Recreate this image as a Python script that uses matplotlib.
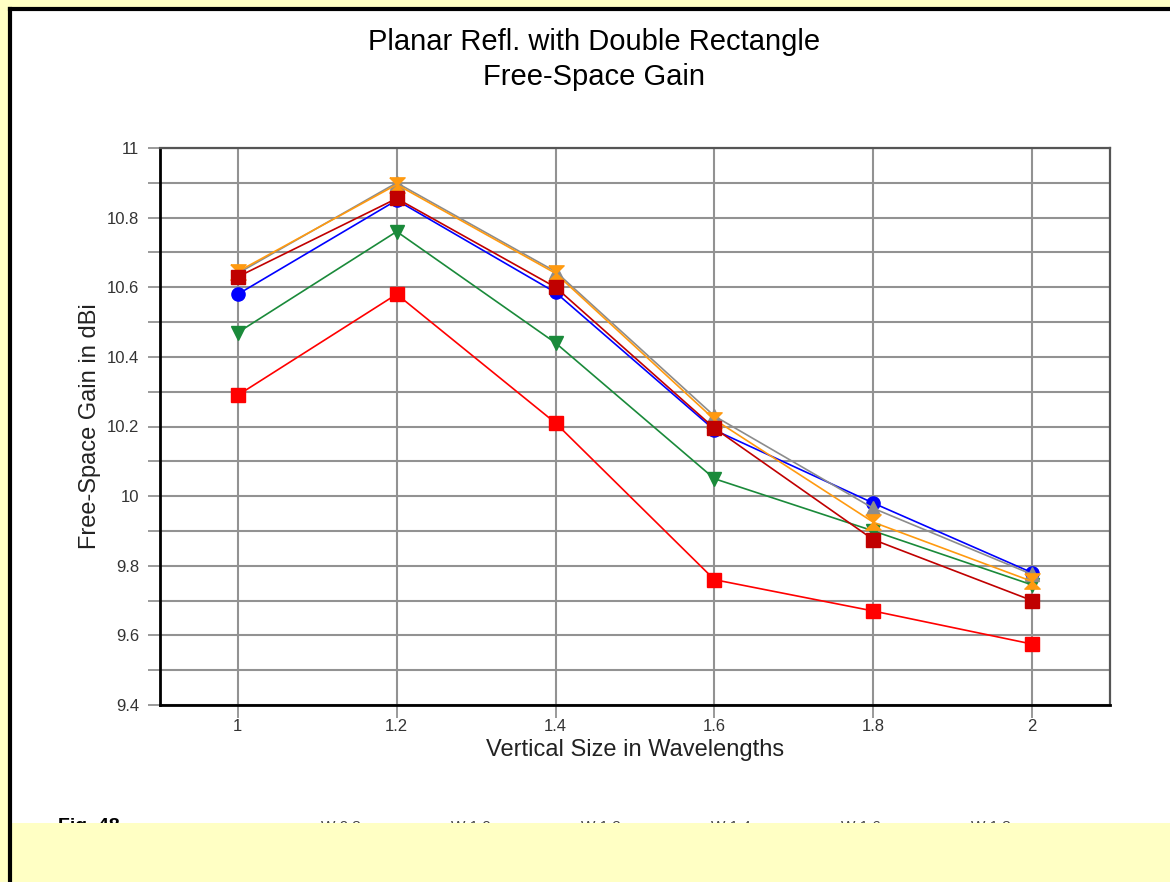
import numpy as np
import matplotlib.pyplot as plt
from matplotlib.patches import Rectangle
from matplotlib.lines import Line2D
from matplotlib.ticker import MultipleLocator

plt.rcParams['font.family'] = 'Liberation Sans'

# -----------------------------
# data
# -----------------------------
sizes = [1.0, 1.2, 1.4, 1.6, 1.8, 2.0]
gain_red = [10.29, 10.58, 10.21, 9.76, 9.67, 9.575]
gain_green = [10.47, 10.76, 10.44, 10.05, 9.90, 9.745]
gain_blue = [10.58, 10.85, 10.585, 10.19, 9.98, 9.78]
gain_gray = [10.64, 10.90, 10.645, 10.23, 9.965, 9.775]
gain_orange = [10.645, 10.895, 10.64, 10.22, 9.925, 9.755]
gain_darkred = [10.63, 10.855, 10.60, 10.195, 9.875, 9.70]
legend_labels = ["W 0.8", "W 1.0", "W 1.2", "W 1.4", "W 1.6", "W 1.8"]

yticks = [9.4, 9.6, 9.8, 10, 10.2, 10.4, 10.6, 10.8, 11]
ytick_labels = ["9.4", "9.6", "9.8", "10", "10.2", "10.4", "10.6", "10.8", "11"]
xtick_labels = ["1", "1.2", "1.4", "1.6", "1.8", "2"]

W, H = 1170, 882
fig = plt.figure(figsize=(W / 100, H / 100), dpi=100, facecolor="#FFFFC4")

# white panel with black top/left border
fig.patches.append(Rectangle((10 / W, 1 - 823 / H), (W - 10) / W, (823 - 9) / H,
                             transform=fig.transFigure, facecolor="white",
                             edgecolor="none", zorder=-5))
fig.add_artist(Line2D([9.5 / W, 1], [1 - 9 / H, 1 - 9 / H], transform=fig.transFigure,
                      color="black", lw=3, zorder=5))
fig.add_artist(Line2D([9.5 / W, 9.5 / W], [0, 1 - 9 / H], transform=fig.transFigure,
                      color="black", lw=3, zorder=5))

ax = fig.add_axes([160 / W, 1 - 705 / H, (1110 - 160) / W, (705 - 148) / H])
ax.set_facecolor("white")

# -----------------------------
# series
# -----------------------------
hourglass = [(-1, 1), (1, 1), (0, 0), (1, -1), (-1, -1), (0, 0), (-1, 1)]
ax.plot(sizes, gain_red, color="#FF0000", marker="s", ms=10, lw=1.2, zorder=3)
ax.plot(sizes, gain_green, color="#1A8A3A", marker="v", ms=10, lw=1.2, zorder=3)
ax.plot(sizes, gain_blue, color="#0000FF", marker="o", ms=9.5, lw=1.2, zorder=3)
ax.plot(sizes, gain_gray, color="#8C8C8C", marker="^", ms=10, lw=1.2, zorder=3)
ax.plot(sizes, gain_orange, color="#FF9A10", marker=hourglass, ms=11, lw=1.2, zorder=3)
ax.plot(sizes, gain_darkred, color="#C00000", marker="s", ms=10, lw=1.2, zorder=3)

ax.set_xlim(0.902, 2.098)
ax.set_ylim(9.4, 11.0)
ax.set_xticks(sizes)
ax.set_xticklabels(xtick_labels)
ax.set_yticks(yticks)
ax.set_yticklabels(ytick_labels)
ax.yaxis.set_minor_locator(MultipleLocator(0.1))

ax.grid(True, which="both", axis="y", color="#929292", lw=1.5, zorder=1)
ax.grid(True, which="major", axis="x", color="#929292", lw=1.5, zorder=1)
ax.set_axisbelow(True)

ax.tick_params(axis="both", which="both", direction="out", length=9, width=1.3,
               color="#929292", labelsize=12, labelcolor="#333333")
ax.tick_params(axis="y", which="minor", labelleft=False)
ax.tick_params(axis="x", pad=1)
ax.tick_params(axis="y", pad=6)

for side in ["left", "bottom"]:
    ax.spines[side].set_color("black")
    ax.spines[side].set_linewidth(2)
for side in ["top", "right"]:
    ax.spines[side].set_color("#555555")
    ax.spines[side].set_linewidth(1.6)

ax.set_xlabel("Vertical Size in Wavelengths", fontsize=17, color="#222222", labelpad=4)
ax.set_ylabel("Free-Space Gain in dBi", fontsize=17, color="#222222", labelpad=4)

fig.text(594 / W, 1 - 42 / H, "Planar Refl. with Double Rectangle", ha="center",
         va="center", fontsize=21)
fig.text(594 / W, 1 - 77 / H, "Free-Space Gain", ha="center", va="center", fontsize=21)

# legend row, mostly hidden behind the yellow band
fig.text(58 / W, 1 - 818 / H, "Fig. 48", ha="left", va="top", fontsize=14,
         fontweight="bold", zorder=2)
for i, lab in enumerate(legend_labels):
    fig.text((321 + 130 * i) / W, 1 - 820 / H, lab, ha="left", va="top", fontsize=11,
             color="#444444", zorder=2)

fig.patches.append(Rectangle((11 / W, 0), (W - 11) / W, (H - 823) / H,
                             transform=fig.transFigure, facecolor="#FFFFC4",
                             edgecolor="none", zorder=4))

fig.savefig("out.png", dpi=100, facecolor=fig.get_facecolor())
